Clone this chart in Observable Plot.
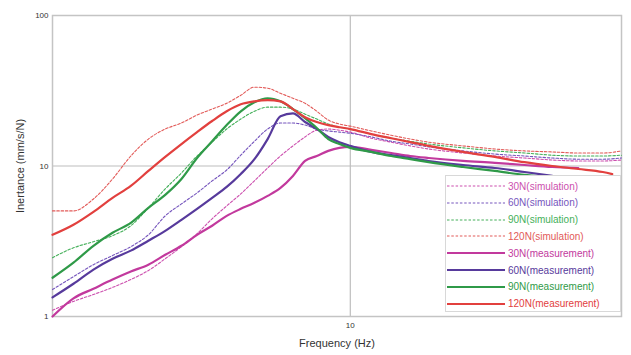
<!DOCTYPE html>
<html>
<head>
<meta charset="utf-8">
<script src="https://cdn.jsdelivr.net/npm/d3@7"></script>
<script src="https://cdn.jsdelivr.net/npm/@observablehq/plot@0.6"></script>
<style>
  html, body { margin: 0; padding: 0; background: #fff; }
  #wrap { position: relative; width: 631px; height: 355px; font-family: "Liberation Sans", Arial, sans-serif; }
  #legend { position: absolute; left: 445px; top: 175px; width: 176px; height: 137px; background: #fff; border: 1px solid #d8d8d8; box-sizing: border-box; }
  .row { position: absolute; left: 0; height: 14px; display: flex; align-items: center; font-size: 10px; white-space: nowrap; }
  .row svg { margin-left: 1px; margin-right: 3px; }
</style>
</head>
<body>
<div id="wrap"><div id="legend"></div></div>
<script>
// Frequency grid (Hz)
const freq = [5, 5.25, 5.5, 5.75, 6, 6.25, 6.5, 6.75, 7, 7.25, 7.5, 7.75, 8, 8.25, 8.5, 8.75, 9, 9.25, 9.5, 9.75, 10, 10.5, 11, 11.5, 12, 13, 14, 15, 16, 17, 18, 18.8];

// Inertance values (mm/s/N)
const sim30  = [1.10, 1.26, 1.40, 1.56, 1.76, 2.02, 2.42, 2.91, 3.55, 4.46, 5.43, 6.53, 7.96, 9.70, 11.65, 13.6, 15.6, 17.3, 17.6, 17.3, 16.8, 15.3, 14.4, 13.6, 12.97, 12.2, 11.65, 11.3, 10.96, 10.8, 10.8, 10.96];
const sim60  = [1.51, 1.84, 2.21, 2.54, 2.91, 3.49, 4.66, 5.60, 6.63, 7.96, 9.41, 11.8, 14.6, 17.6, 19.3, 19.3, 18.7, 17.6, 17.1, 16.8, 16.5, 15.6, 14.6, 14.0, 13.4, 12.6, 12.0, 11.65, 11.3, 11.1, 11.1, 11.3];
const sim90  = [2.46, 2.86, 3.14, 3.44, 4.01, 5.27, 7.04, 8.99, 11.65, 14.4, 17.6, 20.5, 23.1, 24.6, 24.6, 23.9, 22.1, 20.5, 19.0, 18.1, 17.6, 16.3, 15.3, 14.6, 14.0, 13.2, 12.6, 12.2, 11.8, 11.65, 11.65, 11.8];
const sim120 = [5.03, 5.03, 6.04, 8.20, 11.65, 15.1, 17.6, 19.3, 21.8, 23.9, 26.1, 29.5, 33.4, 32.9, 30.4, 28.2, 26.1, 23.1, 20.2, 19.0, 18.4, 17.1, 16.0, 15.1, 14.4, 13.6, 12.97, 12.6, 12.4, 12.2, 12.2, 12.6];
const meas30  = [1.0, 1.32, 1.53, 1.76, 1.99, 2.21, 2.57, 2.95, 3.49, 4.01, 4.66, 5.19, 5.69, 6.33, 7.15, 8.59, 10.8, 11.65, 12.6, 13.2, 13.4, 12.8, 12.2, 11.65, 11.3, 10.8, 10.5, 10.15, 9.85, 9.70];
const meas60  = [1.34, 1.65, 2.05, 2.42, 2.74, 3.19, 3.71, 4.39, 5.19, 6.14, 7.26, 8.85, 11.1, 15.1, 21.4, 22.4, 19.6, 17.6, 15.6, 14.4, 13.6, 12.4, 11.8, 11.3, 10.8, 10.15, 9.70, 9.12, 8.59];
const meas90  = [1.81, 2.28, 2.95, 3.60, 4.19, 5.27, 6.43, 8.20, 11.3, 14.6, 18.7, 23.1, 26.5, 28.2, 26.9, 23.9, 20.8, 17.9, 15.1, 14.0, 13.2, 12.4, 11.65, 11.1, 10.6, 9.85, 9.27, 8.72, 8.33];
const meas120 = [3.49, 4.07, 4.96, 6.14, 7.37, 9.27, 11.5, 14.0, 16.8, 19.9, 23.1, 25.7, 26.9, 27.4, 26.9, 23.9, 21.1, 19.6, 18.7, 18.1, 17.6, 16.3, 15.3, 14.4, 13.6, 12.4, 11.5, 10.6, 10.0, 9.55, 9.12, 8.84];

const names  = ["30N(simulation)", "60N(simulation)", "90N(simulation)", "120N(simulation)", "30N(measurement)", "60N(measurement)", "90N(measurement)", "120N(measurement)"];
const colors = ["#cc4fae", "#7656bd", "#45b05a", "#e25a58", "#c2399d", "#573a9c", "#2f9a48", "#e2403e"];
const valueSets = [sim30, sim60, sim90, sim120, meas30, meas60, meas90, meas120];
const freq120End = 18.4; // last measured point of the 120N measurement

const series = names.map((name, k) => ({
  name, color: colors[k], sim: k < 4,
  data: valueSets[k].map((v, i) => ({f: (k === 7 && i === 31) ? freq120End : freq[i], v}))
}));

const chart = Plot.plot({
  width: 631, height: 355,
  marginLeft: 52, marginRight: 10, marginTop: 15, marginBottom: 39,
  style: {fontFamily: "Liberation Sans, Arial, sans-serif", background: "transparent"},
  x: {type: "log", domain: [5, 18.8]},
  y: {type: "log", domain: [1, 100]},
  marks: [
    Plot.ruleY([10], {stroke: "#bdbdbd", strokeWidth: 1.2}),
    Plot.ruleX([10], {stroke: "#bdbdbd", strokeWidth: 1.2}),
    Plot.frame({stroke: "#c4c4c4", strokeWidth: 1.5}),
    ...series.map(s => Plot.line(s.data, {
      x: "f", y: "v", stroke: s.color,
      strokeWidth: s.sim ? 1.1 : 2.2,
      strokeDasharray: s.sim ? "2.5,1.8" : null,
      curve: "monotone-x"
    })),
    Plot.axisX({ticks: [10], tickFormat: () => "10", tickSize: 0, tickPadding: 6, fontSize: 8, color: "#333",
      label: "Frequency (Hz)", labelAnchor: "center", labelOffset: 30, labelArrow: "none"}),
    Plot.axisY({ticks: [1, 10, 100], tickFormat: d => String(d), tickSize: 0, tickPadding: 4, fontSize: 8, color: "#333",
      label: "Inertance (mm/s/N)", labelAnchor: "center", labelOffset: 36, labelArrow: "none"})
  ]
});
chart.style.position = "absolute";
chart.style.left = "0";
chart.style.top = "0";
const wrap = document.getElementById("wrap");
wrap.insertBefore(chart, wrap.firstChild);
chart.querySelectorAll('[aria-label$="axis label"] text, [aria-label$="axis label"]').forEach(t => t.setAttribute("font-size", "11"));

const legend = document.getElementById("legend");
series.forEach((s, i) => {
  const row = document.createElement("div");
  row.className = "row";
  row.style.top = (3 + i * 16.8) + "px";
  row.style.color = s.color;
  row.innerHTML = `<svg width="58" height="6"><line x1="0" y1="3" x2="58" y2="3" stroke="${s.color}" stroke-width="${s.sim ? 1.1 : 2.2}" ${s.sim ? 'stroke-dasharray="2.5,1.8"' : ''}/></svg><span>${s.name}</span>`;
  legend.appendChild(row);
});
</script>
</body>
</html>
